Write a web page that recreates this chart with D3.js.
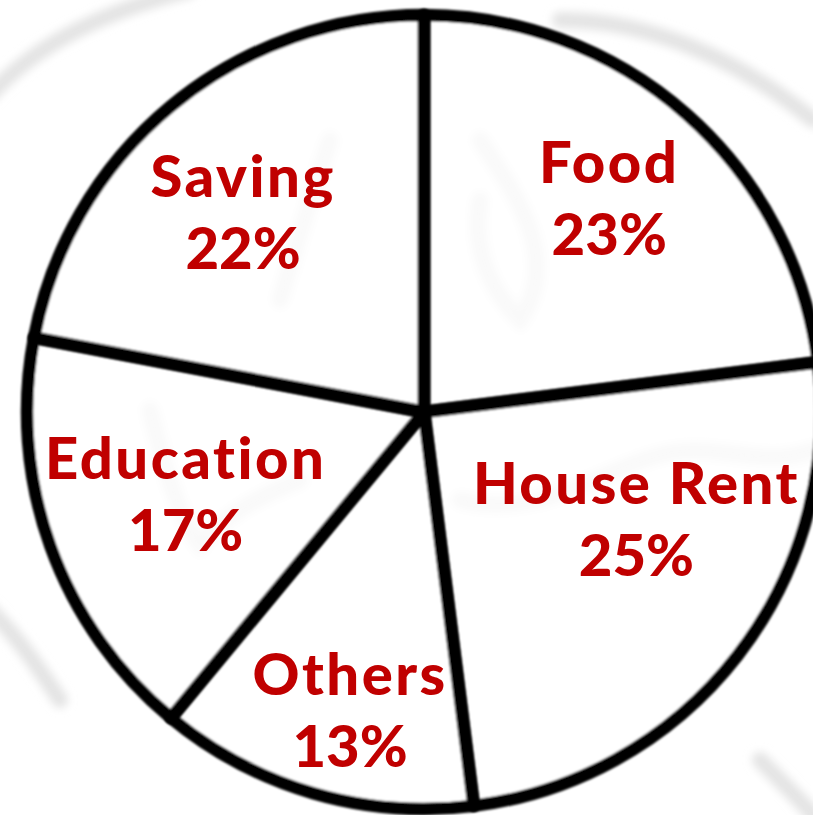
<!DOCTYPE html>
<html>
<head>
<meta charset="utf-8">
<script src="https://cdn.jsdelivr.net/npm/d3@7"></script>
<style>
  html, body { margin: 0; padding: 0; background: #fff; }
  svg { display: block; }
  .label { font-variant-ligatures: none; font-feature-settings: "liga" 0; }
</style>
</head>
<body>
<div id="chart"></div>
<script>
"use strict";

var categories = ["Food", "House Rent", "Others", "Education", "Saving"];
var shares = [23, 25, 13, 17, 22];

var width = 813;
var height = 815;
var cx = 424;
var cy = 412;
var radius = 397;
var labelRadius = 265;
// hand nudges so labels sit where the original had them
var labelNudge = [[10, -15], [3, -55], [0, 44], [11, -8], [-12, 4]];

var svg = d3.select("#chart").append("svg")
  .attr("width", width)
  .attr("height", height)
  .attr("viewBox", "0 0 " + width + " " + height);

var defs = svg.append("defs");
defs.append("filter").attr("id", "blur")
  .append("feGaussianBlur").attr("stdDeviation", 4);
defs.append("filter").attr("id", "soft")
  .append("feGaussianBlur").attr("stdDeviation", 1.2);

// faint watermark in the background
var marks = svg.append("g").attr("filter", "url(#blur)")
  .attr("fill", "none").attr("stroke", "#e4e4e4").attr("stroke-width", 16)
  .attr("stroke-linecap", "round");
marks.append("path").attr("d", "M-10,95 C40,40 110,10 190,-10");
marks.append("path").attr("d", "M330,140 C310,200 295,250 280,300");
marks.append("path").attr("d", "M150,410 C165,470 180,520 200,545 C220,520 250,500 300,480");
marks.append("path").attr("d", "M460,500 C540,520 600,470 660,455 C720,440 760,470 813,450");
marks.append("path").attr("d", "M480,140 C520,200 560,260 520,320 C500,300 470,260 480,200");
marks.append("path").attr("d", "M560,20 C650,20 740,60 813,120");
marks.append("path").attr("d", "M-10,610 C20,640 40,670 60,700");
marks.append("path").attr("d", "M760,760 C780,780 800,800 813,815");

var pie = d3.pie().sort(null).value(function (d) { return d; });
var arcs = pie(shares);

var arc = d3.arc().innerRadius(0).outerRadius(radius);
var labelArc = d3.arc().innerRadius(labelRadius).outerRadius(labelRadius);

var g = svg.append("g")
  .attr("transform", "translate(" + cx + "," + cy + ")");

g.selectAll(".slice")
  .data(arcs)
  .enter().append("path")
  .attr("class", "slice")
  .attr("d", arc)
  .attr("fill", "rgba(255,255,255,0.78)")
  .attr("stroke", "#000")
  .attr("stroke-width", 12.5)
  .attr("stroke-linejoin", "round")
  .attr("filter", "url(#soft)");

var labels = g.selectAll(".label")
  .data(arcs)
  .enter().append("text")
  .attr("class", "label")
  .attr("text-anchor", "middle")
  .attr("font-family", "Lato, 'Open Sans', sans-serif")
  .attr("font-weight", 900)
  .attr("font-size", 58)
  .attr("fill", "#c00000")
  .attr("transform", function (d, i) {
    var c = labelArc.centroid(d);
    return "translate(" + (c[0] + labelNudge[i][0]) + "," + (c[1] + labelNudge[i][1]) + ")";
  });

labels.append("tspan")
  .attr("x", 0)
  .attr("y", -15)
  .attr("letter-spacing", 2.5)
  .text(function (d, i) { return categories[i]; });

labels.append("tspan")
  .attr("x", 0)
  .attr("y", 57)
  .text(function (d) { return d.data + "%"; });
</script>
</body>
</html>
